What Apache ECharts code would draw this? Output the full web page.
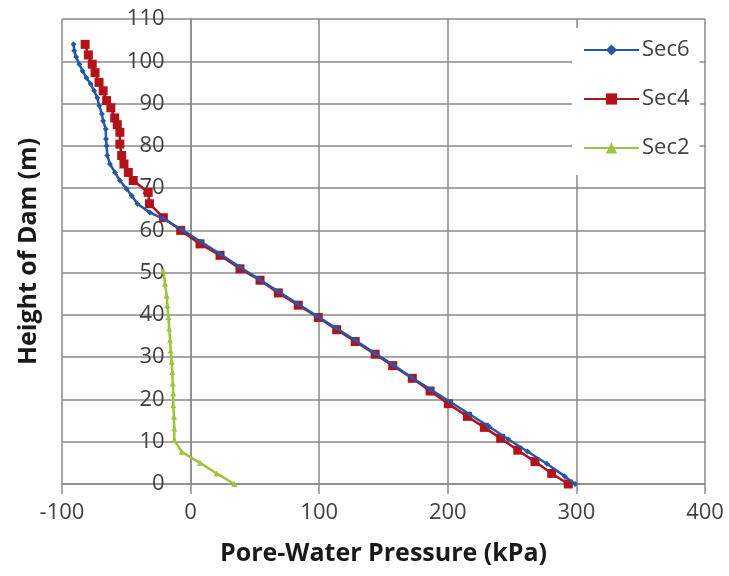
<!DOCTYPE html>
<html>
<head>
<meta charset="utf-8">
<script src="https://cdn.jsdelivr.net/npm/echarts@6/dist/echarts.min.js"></script>
<style>
  html, body { margin: 0; padding: 0; background: #fff; }
  #chart { width: 729px; height: 576px; }
</style>
</head>
<body>
<div id="chart"></div>
<script>
// 数据 (kPa, m)
const sec6 = [
  [-91, 104], [-90.5, 102.5], [-89, 101], [-86.5, 99.3], [-84, 97.7], [-81, 96.1],
  [-77.7, 94.6], [-75, 93], [-72.6, 91.4], [-71, 89.5], [-69, 87.5], [-68, 85.9],
  [-66, 84], [-65.8, 81.6], [-65.3, 80], [-64.8, 77.7], [-62.7, 75.7], [-58.8, 73.7],
  [-55, 71.8], [-49.7, 69.8], [-45.8, 68.2], [-41.4, 66.3], [-31.6, 64.2], [-21.5, 62.8],
  [-7, 60.2], [8, 57.3], [23, 54.4], [38, 51.4], [53, 48.5], [68, 45.6], [83, 42.7],
  [98, 39.8], [113, 36.9], [128, 34], [143, 31], [158, 28.1], [172, 25.2], [187, 22.3],
  [202, 19.4], [217, 16.5], [232, 13.6], [247, 10.6], [262, 7.7], [277, 4.8],
  [291, 1.8], [299, 0]
];
const sec4 = [
  [-82, 104], [-79.5, 101.5], [-76.5, 99.3], [-74.3, 97.3], [-71.2, 95], [-68, 93],
  [-65.3, 90.7], [-62, 89], [-59, 86.6], [-57, 85], [-55, 83.2], [-55, 80.4],
  [-53.6, 77.7], [-51.8, 75.7], [-48.4, 73.7], [-44.6, 71.8], [-33, 69], [-32, 66.3],
  [-21.2, 63], [-7.7, 60], [7.3, 56.8], [22.9, 54.1], [38.4, 50.9], [54, 48.2],
  [68.2, 45.2], [83.7, 42.3], [99.3, 39.4], [113.6, 36.5], [128, 33.7], [143.5, 30.7],
  [157.2, 28], [172.4, 25], [186.2, 22], [200.4, 19], [215.2, 16], [228.4, 13.4],
  [241.1, 10.8], [254.4, 8], [267.8, 5.3], [280.8, 2.5], [293.7, 0]
];
const sec2 = [
  [-21.2, 50.5], [-19.9, 47.4], [-18.6, 44.6], [-18.1, 42.3], [-17.3, 39.5], [-16.6, 36.8],
  [-16, 34], [-15.5, 31.6], [-14.7, 28.9], [-14.2, 26.5], [-13.9, 23.8], [-13.5, 21.4],
  [-13.5, 18.6], [-12.9, 15.9], [-12.7, 13.1], [-12.7, 10.4], [-6.9, 7.6], [7.3, 5],
  [20.3, 2.5], [34, 0]
];
const seriesNames = ['Sec6', 'Sec4', 'Sec2'];
const xRange = [-100, 400];
const yRange = [0, 110];

const gridColor = '#8a8a8a';
const fontFamily = '"Open Sans", "Liberation Sans", sans-serif';

// 绘图区 (px)
const gridLeft = 62, gridRight = 24;
const plotWidth = 729 - gridLeft - gridRight;
// y轴放在 x=0 处
const yAxisShift = plotWidth * (0 - xRange[0]) / (xRange[1] - xRange[0]);

let myChart = echarts.init(document.getElementById('chart'));

myChart.setOption({
  animation: false,
  backgroundColor: '#fff',
  grid: { left: gridLeft, right: gridRight, top: 19, bottom: 92, outerBoundsMode: 'none', containLabel: false },
  legend: {
    orient: 'vertical',
    left: 572,
    top: 28,
    padding: [11, 10, 16, 11],
    backgroundColor: '#fff',
    itemWidth: 55,
    itemHeight: 14,
    itemGap: 27,
    textStyle: { fontFamily: fontFamily, fontSize: 22, color: '#404040', padding: [0, 0, 0, -2] },
    data: seriesNames
  },
  xAxis: {
    type: 'value',
    min: xRange[0], max: xRange[1], interval: 100,
    name: 'Pore-Water Pressure (kPa)',
    nameLocation: 'middle',
    nameGap: 57,
    nameTextStyle: { fontFamily: fontFamily, fontSize: 25, fontWeight: 'bold', color: '#1a1a1a' },
    axisLine: { onZero: false, lineStyle: { color: gridColor, width: 1.5 } },
    axisTick: { show: true, length: 10, lineStyle: { color: gridColor, width: 1.5 } },
    axisLabel: { fontFamily: fontFamily, fontSize: 22, color: '#404040', margin: 18 },
    splitLine: { show: true, lineStyle: { color: gridColor, width: 1.5 } }
  },
  yAxis: {
    type: 'value',
    min: yRange[0], max: yRange[1], interval: 10,
    offset: -yAxisShift,
    name: 'Height of Dam (m)',
    nameLocation: 'middle',
    nameGap: 149,
    nameTextStyle: { fontFamily: fontFamily, fontSize: 25, fontWeight: 'bold', color: '#1a1a1a' },
    axisLine: { show: true, onZero: false, lineStyle: { color: gridColor, width: 1.5 } },
    axisTick: { show: false },
    axisLabel: { fontFamily: fontFamily, fontSize: 22, color: '#404040', margin: 26 },
    splitLine: { show: true, lineStyle: { color: gridColor, width: 1.5 } }
  },
  series: [
    {
      name: 'Sec6', type: 'line', data: sec6,
      symbol: 'diamond', symbolSize: 6, showAllSymbol: true,
      lineStyle: { color: '#2358a8', width: 2.5 },
      itemStyle: { color: '#2358a8' }, z: 3
    },
    {
      name: 'Sec4', type: 'line', data: sec4,
      symbol: 'rect', symbolSize: 9, showAllSymbol: true,
      lineStyle: { color: '#b3121a', width: 2.5 },
      itemStyle: { color: '#b3121a' }, z: 2
    },
    {
      name: 'Sec2', type: 'line', data: sec2,
      symbol: 'triangle', symbolSize: 6, showAllSymbol: true,
      lineStyle: { color: '#9cc43c', width: 2.5 },
      itemStyle: { color: '#9cc43c' }, z: 2
    }
  ]
});
</script>
</body>
</html>
